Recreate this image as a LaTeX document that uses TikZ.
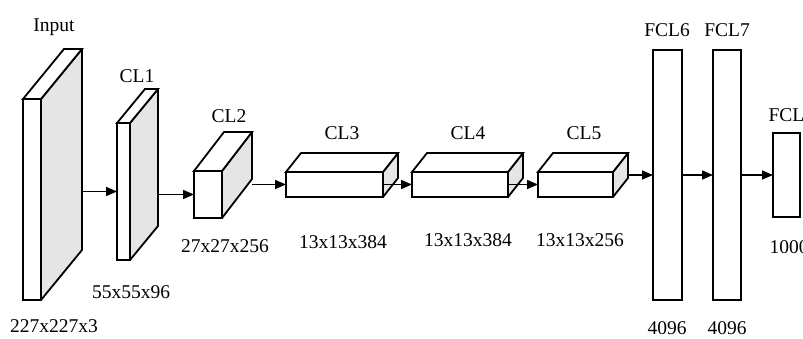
\documentclass[tikz,border=0pt]{standalone}
\usepackage{fontspec}
\setmainfont{Liberation Serif}
\usetikzlibrary{arrows.meta}

\tikzset{
  face/.style={draw, line width=1.8pt, fill=white, inner sep=0pt, outer sep=0pt},
  side/.style={draw, line width=1.8pt, fill=gray!20, line join=round},
  conn/.style={line width=1.6pt, -{Triangle[length=11pt,width=9pt]}},
  lbl/.style={anchor=base, font=\fontsize{19.5}{21}\selectfont}
}

\begin{document}
\begin{tikzpicture}[x=1pt, y=-1pt]
  \useasboundingbox[fill=white] (0,0) rectangle (803,339);

  \foreach \n/\x/\y/\w/\h/\dx/\dy in {in/23/99/18/201/41/-50, cl1/117/123/13/137/28/-34,
      cl2/194/171/28/47/30/-39, cl3/286/172/97/25/15/-19, cl4/412/172/96/25/15/-19,
      cl5/538/172/75/25/15/-19} {
    \node[face, minimum width=\w pt, minimum height=\h pt, anchor=north west] (\n) at (\x,\y) {};
    \draw[side] (\n.north east) -- ++(\dx,\dy) -- ++(0,\h) -- (\n.south east) -- cycle;
    \draw[face] (\n.north west) -- ++(\dx,\dy) -- ++(\w,0) -- (\n.north east) -- cycle;
    \coordinate (\n-r) at ([shift={(\dx,\dy)}]\n.east);
  }

  \node[face, minimum width=29pt, minimum height=250pt, anchor=north west] (fcl6) at (653,50) {};
  \node[face, minimum width=28pt, minimum height=250pt, anchor=north west] (fcl7) at (713,50) {};
  \node[face, minimum width=27pt, minimum height=84pt, anchor=north west] (fcl8) at (773,133) {};

  \draw[conn] (cl1.west -| in-r) -- (cl1.west);
  \draw[conn] (cl2.west -| cl1-r) -- (cl2.west);
  \draw[conn] (cl3.west -| cl2-r) -- (cl3.west);
  \draw[conn] (cl3.east) -- (cl4.west);
  \draw[conn] (cl4.east) -- (cl5.west);
  \draw[conn] (fcl6.west -| cl5-r) -- (fcl6.west);
  \draw[conn] (fcl6.east) -- (fcl7.west);
  \draw[conn] (fcl7.east) -- (fcl8.west);

  \node[lbl] (t-in) at (54,32) {Input};
  \node[lbl] (t-cl1) at (137,83) {CL1};
  \node[lbl] (t-cl2) at (229,123) {CL2};
  \node[lbl] (t-cl3) at (342,140) {CL3};
  \node[lbl] (t-cl4) at (468,140) {CL4};
  \node[lbl] (t-cl5) at (584,140) {CL5};
  \node[lbl] (t-fcl6) at (667,37) {FCL6};
  \node[lbl] (t-fcl7) at (727,37) {FCL7};
  \node[lbl, anchor=base west] (t-fcl8) at (765,122) {FCL8};

  \node[lbl] (d-in) at (54,332) {227x227x3};
  \node[lbl] (d-cl1) at (131,298) {55x55x96};
  \node[lbl] (d-cl2) at (225,252) {27x27x256};
  \node[lbl] (d-cl3) at (343,248) {13x13x384};
  \node[lbl] (d-cl4) at (468,246) {13x13x384};
  \node[lbl] (d-cl5) at (580,246) {13x13x256};
  \node[lbl] (d-fcl6) at (667,334) {4096};
  \node[lbl] (d-fcl7) at (727,334) {4096};
  \node[lbl, anchor=base west] (d-fcl8) at (766,253) {1000};
\end{tikzpicture}
\end{document}
